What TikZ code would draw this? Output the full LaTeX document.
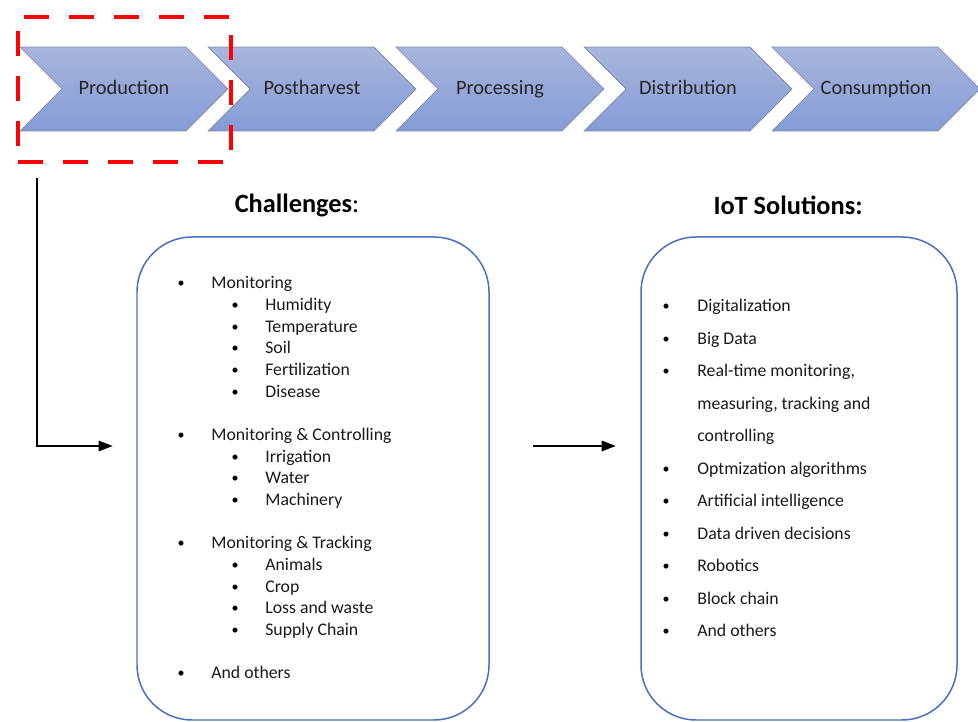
\documentclass[tikz,border=0pt]{standalone}
\usepackage{fontspec}
\setmainfont{Carlito}
\usetikzlibrary{arrows.meta,calc,positioning,shapes.symbols}

\definecolor{chevtop}{RGB}{168,182,222}
\definecolor{chevbot}{RGB}{132,155,212}
\definecolor{chevline}{RGB}{125,138,172}
\definecolor{boxline}{RGB}{72,112,190}

\begin{document}
\begin{tikzpicture}[
    x=0.02cm, y=-0.02cm,
    chev/.style={signal, signal from=west, signal to=east, signal pointer angle=90, draw=chevline, thin,
                 top color=chevtop, bottom color=chevbot, minimum width=4.16cm, minimum height=1.68cm,
                 inner sep=0pt, text height=0.9em, text depth=0.22em, text=black!85, font=\fontsize{11.6}{14}\selectfont},
    focusbox/.style={draw=red, line width=2.8pt, dash pattern=on 0.5cm off 0.4cm, minimum width=4.26cm, minimum height=2.9cm},
    listbox/.style={draw=boxline, line width=0.85pt, rounded corners=1.1cm},
    ttl/.style={font=\fontsize{15}{18}\selectfont\bfseries},
    bul/.style={anchor=base, inner sep=0pt, font=\fontsize{8}{10}\selectfont},
    item/.style={anchor=base west, inner sep=0pt, text=black!90, font=\fontsize{10.1}{12}\selectfont},
    arr/.style={-{Triangle[length=8pt,width=6pt]}, line width=0.7pt}
]
\useasboundingbox (0,0) rectangle (978,722);

% Value chain
\node[chev] (prod) at (124,89) {Production};
\node[chev] (post) at (312,89) {Postharvest};
\node[chev] (proc) at (500,89) {Processing};
\node[chev] (dist) at (688,89) {Distribution};
\node[chev] (cons) at (876,89) {Consumption};

% Highlighted stage
\node[focusbox] (focus) at (124.5,89.5) {};

% Titles
\node[ttl] (ttlchal) at (297,205) {Challenges\mdseries:};
\node[ttl] (ttlsol) at (788,205) {IoT Solutions:};

% Boxes
\draw[listbox] (137,237) rectangle (489,720);
\node[minimum width=7.04cm, minimum height=9.66cm, inner sep=0pt] (chal) at (313,478.5) {};
\draw[listbox] (641,237) rectangle (957,720);
\node[minimum width=6.32cm, minimum height=9.66cm, inner sep=0pt] (sol) at (799,478.5) {};

% Challenges list
\foreach \n/\txt in {0/Monitoring, 7/Monitoring \& Controlling, 12/Monitoring \& Tracking, 18/And others}{
    \node[bul] (cb\n) at (181,{288+\n*21.65}) {\textbullet};
    \node[item] (ct\n) at (211,{289+\n*21.65}) {\txt};
}
\foreach \n/\txt in {1/Humidity, 2/Temperature, 3/Soil, 4/Fertilization, 5/Disease,
                     8/Irrigation, 9/Water, 10/Machinery,
                     13/Animals, 14/Crop, 15/Loss and waste, 16/Supply Chain}{
    \node[bul] (cb\n) at (235,{288+\n*21.65}) {\textbullet};
    \node[item] (ct\n) at (265,{289+\n*21.65}) {\txt};
}

% Solutions list
\foreach \n/\txt in {0/Digitalization, 1/Big Data, 2/{Real-time monitoring,}, 5/Optmization algorithms,
                     6/Artificial intelligence, 7/Data driven decisions, 8/Robotics, 9/Block chain, 10/And others}{
    \node[bul] (sb\n) at (666,{311+\n*32.5}) {\textbullet};
    \node[item] (st\n) at (697,{312+\n*32.5}) {\txt};
}
\node[item] (st3) at (697,{312+3*32.5}) {measuring, tracking and};
\node[item] (st4) at (697,{312+4*32.5}) {controlling};

% Connectors
\coordinate (tap) at (37,178);
\coordinate (mid) at (0,446);
\draw[arr] (tap) |- ([xshift=-0.48cm]chal.west |- mid);
\draw[arr] ([xshift=0.88cm]chal.east |- mid) -- ([xshift=-0.5cm]sol.west |- mid);

\end{tikzpicture}
\end{document}
